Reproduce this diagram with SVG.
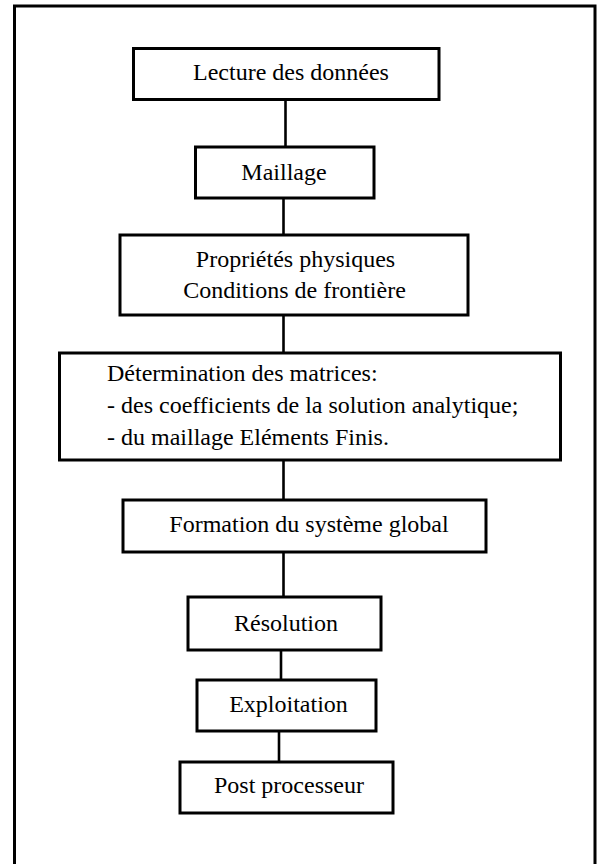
<svg xmlns="http://www.w3.org/2000/svg" width="597" height="864" viewBox="0 0 597 864">
<style>
.box{fill:#fff;stroke:#000;stroke-width:3}
.frame{fill:none;stroke:#000;stroke-width:3}
.conn line{stroke:#000;stroke-width:2.6}
text{font-family:"Liberation Serif","Times New Roman",serif;font-size:24px;fill:#000}
.c{text-anchor:middle}
</style>
<rect width="597" height="864" fill="#fff"/>
<path class="frame" d="M14.5,870 L14.5,6 L595,6 L595,870"/>
<g id="connectors" class="conn">
<line x1="285.5" y1="99" x2="285.5" y2="147"/>
<line x1="283.5" y1="198" x2="283.5" y2="235"/>
<line x1="283.5" y1="315" x2="283.5" y2="353"/>
<line x1="283.5" y1="460" x2="283.5" y2="500"/>
<line x1="283.5" y1="552" x2="283.5" y2="597"/>
<line x1="281" y1="650" x2="281" y2="680"/>
<line x1="279" y1="731" x2="279" y2="762"/>
</g>
<g id="lecture">
<rect class="box" x="133.5" y="48.5" width="305.5" height="51"/>
<text class="c" x="291" y="80">Lecture des données</text>
</g>
<g id="maillage">
<rect class="box" x="195.5" y="147" width="178.5" height="51"/>
<text class="c" x="284" y="180">Maillage</text>
</g>
<g id="proprietes">
<rect class="box" x="120" y="235" width="348" height="80"/>
<text class="c" x="295.5" y="266.5">Propriétés physiques</text>
<text class="c" x="294.5" y="297.5">Conditions de frontière</text>
</g>
<g id="determination">
<rect class="box" x="59.5" y="353" width="501" height="107"/>
<text x="107" y="380.5">Détermination des matrices:</text>
<text x="107" y="412.5">- des coefficients de la solution analytique;</text>
<text x="107" y="444.5">- du maillage Eléments Finis.</text>
</g>
<g id="formation">
<rect class="box" x="123" y="500" width="363" height="52"/>
<text class="c" x="309" y="531.5">Formation du système global</text>
</g>
<g id="resolution">
<rect class="box" x="188" y="597" width="193" height="53"/>
<text class="c" x="286" y="630.5">Résolution</text>
</g>
<g id="exploitation">
<rect class="box" x="197" y="680" width="179" height="51"/>
<text class="c" x="288.5" y="712">Exploitation</text>
</g>
<g id="post">
<rect class="box" x="180" y="762" width="213" height="51"/>
<text class="c" x="289" y="793">Post processeur</text>
</g>
</svg>
